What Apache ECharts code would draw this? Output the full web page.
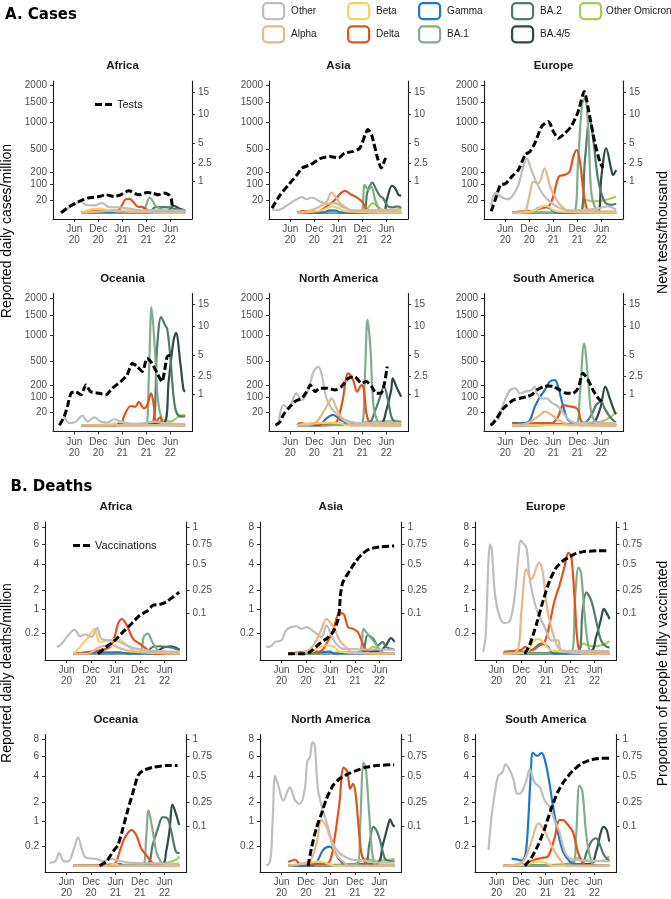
<!DOCTYPE html>
<html><head><meta charset="utf-8">
<script src="https://cdn.jsdelivr.net/npm/echarts@6/dist/echarts.min.js"></script>
<style>html,body{margin:0;padding:0;background:#fff}#c{width:671px;height:899px}</style>
</head><body><div id="c"></div><script>
// ---------- tick labels ----------
const xTickMonths = [5, 11, 17, 23, 29];
const xTickLabels = ['Jun\n20', 'Dec\n20', 'Jun\n21', 'Dec\n21', 'Jun\n22'];
const casesTicks = [20, 100, 200, 500, 1000, 1500, 2000];
const testsTicks = [1, 2.5, 5, 10, 15];
const deathsTicks = [0.2, 1, 2, 4, 6, 8];
const vaccTicks = [0.1, 0.25, 0.5, 0.75, 1];
const regions = ['Africa', 'Asia', 'Europe', 'Oceania', 'North America', 'South America'];
const variantNames = ['Other', 'Alpha', 'Beta', 'Gamma', 'Delta', 'BA.1', 'BA.2', 'BA.4/5', 'Other Omicron'];

// ---------- data: [month since Jan 2020, value] ----------
// Cases per million - Africa
const cAfOther = [[2.1,0.2],[4.6,6],[6.7,15.7],[7.9,7.8],[10,6.6],[12,11.4],[13.7,3.9],[16.2,3.5],[18.6,2],[22,0.7],[26.1,0.7],[32.7,0.5]];
const cAfAlpha = [[6.7,0],[12,0.2],[14.5,0.6],[16.5,0.5],[19,0.1],[32.7,0]];
const cAfBeta = [[6.7,0],[8,0.5],[9.5,1.6],[11.2,2],[13.7,0.7],[16,0.2],[23,0.3],[25,0],[32.7,0]];
const cAfGamma = [[6.7,0],[15,0.1],[19,0.1],[21,0],[32.7,0]];
const cAfDelta = [[6.7,0],[9,0.3],[12,0.6],[15,0.6],[16,0.8],[17,8],[17.8,22],[18.8,24],[19.8,14],[20.7,5],[22,3.9],[23.2,1.1],[25,0.1],[32.7,0]];
const cAfBA1 = [[6.7,0],[22,0],[23,8],[23.8,28.7],[24.5,18],[25.3,6],[27,1.1],[28.5,0],[32.7,0]];
const cAfBA2 = [[6.7,0],[23.5,0],[25.3,3.9],[27,3.9],[28.6,3.5],[30.2,1.6],[32.7,0.5]];
const cAfBA45 = [[6.7,0],[27.5,0],[28.6,0.7],[29.8,6],[31.5,1.6],[32.7,0.7]];
const cAfOmi = [[6.7,0],[24,0],[26,0.3],[30,0.2],[32.7,0.3]];
const cAfTests = [[1.7,0],[3.8,0.04],[6.2,0.13],[8.3,0.22],[11.2,0.27],[12.9,0.33],[14.9,0.27],[16.6,0.33],[18.6,0.5],[21.1,0.33],[23.2,0.42],[24.4,0.4],[26.1,0.33],[27.3,0.4],[28.6,0.33],[29.2,0.2],[29.5,0.04]];
// Cases - Asia
const cAsOther = [[0.45,1.1],[2,1],[4.2,6.6],[6,18],[7.9,30],[9.1,22.8],[10.4,28.7],[12.4,15.7],[14.1,9.9],[16.2,11.4],[17.8,4.9],[19.9,1.1],[22.4,0.7],[26.9,1.1],[32.7,1.1]];
const cAsAlpha = [[6.7,0],[9,0.2],[11.6,2.7],[14.1,15.7],[15.3,50.5],[16.2,35],[17.4,11.4],[19.1,2.7],[20.7,0.3],[32.7,0.2]];
const cAsBeta = [[6.7,0],[11,0.2],[13.3,1.1],[15.3,4.9],[17,2.7],[19,0.2],[32.7,0]];
const cAsGamma = [[6.7,0],[13,0],[15,0.7],[16.5,0.6],[17.5,0],[32.7,0]];
const cAsDelta = [[6.7,0],[8,0.3],[12,0.3],[14.1,4.9],[16.2,20.7],[17.5,45],[18.6,59],[20.3,39.6],[21.9,26],[23.2,11.4],[24,1.6],[25.5,0],[32.7,0]];
const cAsBA1 = [[6.7,0],[22.5,0],[23.6,96],[24.5,65],[25.2,85],[26.2,20.7],[27,2.7],[28,0],[32.7,0]];
const cAsBA2 = [[6.7,0],[23,0],[24.3,55],[25.5,112],[26.5,65],[27.4,35],[28.2,26],[29.4,4.9],[30.6,3.5],[31.8,4.9],[32.7,3]];
const cAsBA45 = [[6.7,0],[28,0],[29.1,20.7],[30.4,89],[31.2,74],[32,40],[32.7,36]];
const cAsOmi = [[6.7,0],[23.5,0],[24.4,2.7],[25.6,11.4],[26.8,4.9],[28,1.1],[30,0.5],[32.7,2.7]];
const cAsTests = [[0.45,0.022],[2.5,0.33],[4.6,0.81],[6.7,1.48],[7.9,2.05],[10,2.37],[12.4,3],[14.9,3.26],[17,3.07],[18.6,3.66],[20.7,3.86],[22.4,4.3],[24.4,7.1],[25.3,6.25],[26.9,2.9],[27.7,2.05],[28.8,3.07]];
// Cases - Europe
const cEuOther = [[1.5,5],[2.5,47],[3.8,32.6],[5.4,22.8],[6.7,32.6],[8.3,96],[9.5,262],[10.4,365],[11.5,226],[12.9,108],[14.5,39.6],[16.6,11.4],[18.6,2.7],[21.5,0.7],[24.9,1.1],[28,2],[30.6,4.9],[32.7,1.1]];
const cEuAlpha = [[6.7,0],[9.5,0],[11.2,47],[12,120],[13.3,108],[14.8,244],[16.2,85],[17.8,20.7],[19.5,2.7],[21,0.2],[32.7,0.2]];
const cEuBeta = [[6.7,0],[12,0.3],[14.1,4.9],[15.3,6],[16.6,1.6],[18,0.2],[32.7,0]];
const cEuGamma = [[6.7,0],[12,0.3],[13.3,2.7],[14.9,4.9],[16.6,1.1],[18,0],[32.7,0]];
const cEuDelta = [[6.7,0],[10,0.3],[12,0.5],[14.1,2.7],[15.8,4.9],[17,32.6],[18.4,161],[19.9,177],[21.1,209],[22,388],[22.8,485],[23.6,343],[24.7,32.6],[25.5,1.1],[26.5,0],[32.7,0]];
const cEuBA1 = [[6.7,0],[22,0],[23.2,343],[24.2,1470],[24.9,1608],[25.7,912],[26.5,47],[27.7,0.5],[28.5,0],[32.7,0]];
const cEuBA2 = [[6.7,0],[23.6,0],[24.9,343],[26.1,1095],[26.9,712],[28.2,133],[29.8,15.7],[31.5,7.8],[32.7,10]];
const cEuBA45 = [[6.7,0],[28,0],[29,161],[30.2,511],[31.5,226],[31.9,177],[32.7,226]];
const cEuOmi = [[6.7,0],[24,0],[24.9,20.7],[27.3,15.7],[29.4,18.6],[31.5,26],[32.7,32.6]];
const cEuTests = [[1.5,0.002],[2.5,0.17],[3.8,0.8],[5,0.86],[6.7,1.36],[8.3,1.9],[10,3.46],[11.2,3.86],[12.4,4.98],[14.1,7.66],[15.8,8.57],[17,6.8],[18.2,5.7],[19.9,6.5],[21.5,7.66],[23.2,10.5],[24.7,15.1],[26.1,9.5],[27.3,5.2],[28.6,2.7],[29.4,2.05]];
// Cases - Oceania
const cOcOther = [[2.5,9.2],[3.8,0.5],[5.4,1.6],[7.1,11.4],[8.3,1.6],[10,7.8],[11.6,1.6],[13.3,0.9],[14.9,4.4],[16.6,1.6],[18.6,0.5],[21,0.2],[24.9,1.6],[27.3,0.5],[32.7,0.2]];
const cOcAlpha = [[6.7,0],[32.7,0]];
const cOcBeta = [[6.7,0],[14,0],[15,0.5],[16,0],[32.7,0]];
const cOcGamma = [[6.7,0],[15,0],[16,0.3],[17,0],[32.7,0]];
const cOcDelta = [[6.7,0],[16.5,0],[17.4,9.2],[19.1,45.7],[20.3,42.6],[21.1,68],[22.4,35],[23.2,50.5],[24.2,125],[24.9,42.6],[25.4,1.6],[26.5,7.8],[27.3,0.2],[32.7,0]];
const cOcBA1 = [[6.7,0],[22.8,0],[23.6,251],[24.3,1720],[25.1,757],[25.9,78],[26.9,3.5],[28,0],[32.7,0]];
const cOcBA2 = [[6.7,0],[24.4,0.5],[25.7,757],[26.7,1443],[27.7,1231],[28.2,1150],[29,576],[29.8,100],[30.6,17.6],[31.9,9.2],[32.7,10]];
const cOcBA45 = [[6.7,0],[27.3,0.5],[28.6,251],[29.8,890],[30.4,1050],[31.5,470],[32.3,153],[32.7,140]];
const cOcOmi = [[6.7,0],[25,0.5],[27.7,3.5],[29,1.6],[31.1,9.2],[32.3,13],[32.7,11]];
const cOcTests = [[1.3,0],[2.5,0.077],[3.3,0.36],[4.2,1.05],[5.4,1.16],[6.7,0.95],[7.9,1.67],[9.1,1.16],[11.2,1.05],[12.9,0.95],[14.5,1.41],[16.6,1.96],[18.2,2.6],[19.5,3.95],[20.7,3.54],[22,2.96],[23.2,4.6],[24.4,3.95],[25.7,2.78],[26.9,1.96],[28.2,4.84],[29,5.1]];
// Cases - North America
const cNaOther = [[2.1,0.5],[3.3,50.5],[4.6,35],[6.5,125],[7.9,78],[9.5,153],[10.8,352],[12,421],[12.9,310],[13.9,100],[15.3,35],[17.4,9.2],[19.9,1.6],[23,0.5],[26.5,0.7],[32.7,0.7]];
const cNaAlpha = [[6.7,0],[9,0],[11.6,1.6],[13.3,22.8],[14.5,59],[15.3,89],[16.6,35],[17.8,6],[19.5,0.5],[21,0],[32.7,0]];
const cNaBeta = [[6.7,0],[10,0.3],[14.9,0.9],[17.4,0.5],[19,0],[32.7,0]];
const cNaGamma = [[6.7,0],[12,0],[14.1,6],[15.6,13],[17.4,4.4],[19,0.5],[20,0],[32.7,0]];
const cNaDelta = [[6.7,0],[7.5,0.5],[9,0.2],[16,0.5],[17,6],[18.1,78],[19.5,331],[20.7,251],[21.7,139],[22.8,199],[23.4,153],[24,17.6],[24.8,0.5],[25.5,0],[32.7,0]];
const cNaBA1 = [[6.7,0],[22.8,0.5],[23.6,251],[24.3,1373],[25,757],[25.8,42.6],[26.9,0.9],[28,0],[32.7,0]];
const cNaBA2 = [[6.7,0],[24.5,0.5],[26.1,22.8],[27.3,89],[28.4,183],[29.4,78],[30.6,3.5],[32.7,0.9]];
const cNaBA45 = [[6.7,0],[27.5,0.5],[29,28.7],[30.2,153],[30.6,270],[31.5,183],[32.7,100]];
const cNaOmi = [[6.7,0],[22,0],[23.2,0.9],[25,1.6],[27.5,1.6],[31.5,2.7],[32.7,1.6]];
const cNaTests = [[1.3,0],[2.4,0.01],[3.3,0.11],[4.6,0.3],[6.2,0.58],[7.9,0.75],[9.1,1.16],[10,1.67],[11.2,1.16],[12.4,1.41],[14.1,1.41],[16.2,1.28],[17.8,1.54],[19.5,2.27],[21.1,2.43],[22.8,1.81],[24,1.96],[25.3,1.54],[26.5,1.05],[27.7,1.05],[28.6,1.96],[29.2,3.54]];
// Cases - South America
const cSaOther = [[3.3,3.5],[4.6,59],[6.2,153],[7.5,167],[8.7,125],[10,139],[11.5,153],[12.3,183],[12.9,125],[14.1,89],[15.3,89],[16.6,63],[18.2,42.6],[19.9,13],[21.5,1.6],[23,0.5],[26.9,0.9],[32.7,0.5]];
const cSaAlpha = [[6.7,0],[10,0.2],[12,3.5],[13.7,13],[14.9,22.8],[16.6,13],[18.2,3.5],[19.9,0.5],[21,0],[32.7,0]];
const cSaBeta = [[6.7,0],[32.7,0]];
const cSaGamma = [[6.7,0.5],[10,0.5],[11.2,3.5],[12.4,42.6],[13.7,100],[14.9,153],[16.1,233],[17.4,251],[18.2,183],[19.5,42.6],[20.7,3.5],[22.3,0.5],[23.5,0],[32.7,0]];
const cSaDelta = [[6.7,0.5],[9,0.2],[13,0.5],[16.6,0.5],[18.2,9.2],[19.5,50.5],[20.7,45.7],[22.3,39.6],[23.2,28.7],[24,1.6],[25,0.5],[26,0],[32.7,0]];
const cSaBA1 = [[6.7,0],[22.8,0.5],[23.6,100],[24.7,822],[25.7,251],[26.5,17.6],[27.7,0.5],[28.5,0],[32.7,0]];
const cSaBA2 = [[6.7,0],[24.5,0.5],[26.5,13],[27.7,50.5],[29,68],[29.8,35],[31.1,9.2],[32.3,1.6],[32.7,1.2]];
const cSaBA45 = [[6.7,0],[26.5,0.5],[28.6,28.7],[30,183],[31.1,89],[32.3,22.8],[32.7,15]];
const cSaOmi = [[6.7,0],[25,0.5],[27,0.9],[29,1.6],[31.5,9.2],[32.3,17.6],[32.7,18]];
const cSaTests = [[1.3,0],[2,0.005],[2.9,0.05],[4.2,0.24],[5.4,0.42],[7.1,0.66],[8.7,0.75],[10.4,0.84],[11.6,0.95],[12.9,1.28],[14.5,1.54],[15.8,1.59],[17,1.54],[18.6,1.28],[20.3,1.05],[21.9,1.05],[23.2,1.41],[24.4,2.78],[25.7,2.11],[26.9,1.28],[28.2,0.75],[29,0.58]];

// Deaths per million - Africa
const dAfOther = [[2.6,0.023],[3.8,0.05],[5.4,0.17],[7,0.286],[8.3,0.15],[9.5,0.186],[11.1,0.14],[12.5,0.335],[13.5,0.113],[15.6,0.09],[17.6,0.077],[19.6,0.035],[21.3,0.017],[24.5,0.006],[32.7,0.002]];
const dAfAlpha = [[6.7,0],[10,0],[13.1,0.023],[16.4,0.035],[18,0.015],[21.3,0.002],[32.7,0]];
const dAfBeta = [[6.7,0],[8.3,0.023],[10.3,0.14],[11.9,0.31],[13.1,0.07],[15.6,0.09],[17.2,0.11],[18.8,0.07],[21.3,0.006],[23,0.002],[32.7,0]];
const dAfGamma = [[6.7,0],[12,0.001],[18,0.001],[20,0],[32.7,0]];
const dAfDelta = [[6.7,0],[13.1,0.006],[15.6,0.023],[16.8,0.15],[17.6,0.445],[18.6,0.6],[19.3,0.5],[20,0.35],[21.3,0.11],[22.9,0.05],[24.5,0.013],[26,0],[32.7,0]];
const dAfBA1 = [[6.7,0],[23,0.002],[23.9,0.14],[24.9,0.2],[26,0.07],[27,0.013],[28.5,0],[32.7,0]];
const dAfBA2 = [[6.7,0],[24.5,0.002],[26.1,0.023],[27.8,0.028],[29.4,0.023],[31,0.018],[32.7,0.006]];
const dAfBA45 = [[6.7,0],[27,0.002],[28.6,0.018],[30.6,0.028],[32.7,0.008]];
const dAfOmi = [[6.7,0],[32.7,0]];
const dAfVacc = [[12.7,0],[14.8,0.003],[16.8,0.011],[18.8,0.029],[20.9,0.056],[22.9,0.091],[24.9,0.116],[26.1,0.145],[27.8,0.151],[29.4,0.166],[31,0.199],[32.6,0.235]];
// Deaths - Asia
const dAsOther = [[1.2,0.023],[2.2,0.025],[3.4,0.07],[5,0.09],[6.2,0.286],[8.7,0.37],[9.9,0.31],[11.1,0.35],[13.1,0.23],[14.8,0.14],[16,0.4],[17.2,0.17],[18,0.07],[20,0.013],[24,0.01],[32.7,0.008]];
const dAsAlpha = [[6.7,0],[11,0.002],[13.1,0.05],[14.8,0.31],[16,0.61],[16.8,0.5],[18,0.31],[19.2,0.09],[20.9,0.018],[22,0.002],[32.7,0]];
const dAsBeta = [[6.7,0],[12.5,0.002],[14.3,0.023],[16,0.035],[18,0.023],[19.2,0.002],[32.7,0]];
const dAsGamma = [[6.7,0],[14,0.001],[16.8,0.002],[18,0],[32.7,0]];
const dAsDelta = [[6.7,0],[12,0.002],[14.3,0.002],[16,0.05],[17.6,0.27],[19.2,0.82],[20.2,0.79],[21.3,0.35],[22.5,0.31],[23.7,0.23],[24.9,0.05],[25.7,0.008],[27,0],[32.7,0]];
const dAsBA1 = [[6.7,0],[24,0.002],[25.1,0.31],[26.1,0.19],[27.4,0.09],[28.6,0.023],[30,0],[32.7,0]];
const dAsBA2 = [[6.7,0],[24.5,0.002],[26.1,0.17],[27.5,0.11],[28.6,0.035],[29.8,0.07],[30.6,0.023],[32.7,0.008]];
const dAsBA45 = [[6.7,0],[29,0.004],[30.6,0.035],[31.8,0.12],[32.7,0.07]];
const dAsOmi = [[6.7,0],[25.5,0.002],[27.4,0.023],[29,0.008],[30.5,0],[32.7,0]];
const dAsVacc = [[6.6,0],[11.1,0],[12.7,0.001],[14.3,0.0064],[16,0.014],[17.6,0.029],[18.8,0.069],[19.2,0.125],[19.4,0.21],[20,0.317],[21.7,0.429],[23.3,0.538],[24.9,0.626],[26.5,0.68],[29,0.711],[32.6,0.724]];
// Deaths - Europe
const dEuOther = [[1.7,0.002],[2.3,0.14],[3,4.28],[3.4,5.95],[3.8,5.4],[4.6,1.77],[5.8,0.66],[7,0.47],[8.3,0.55],[9.5,1.77],[10.3,4.59],[10.9,6.38],[11.5,6.1],[12.3,5.58],[13.1,2.89],[13.9,1.68],[15.2,0.79],[16.8,0.35],[18.4,0.09],[20,0.09],[20.9,0.006],[24,0.004],[32.7,0.004]];
const dEuAlpha = [[6.7,0],[9.9,0.002],[11.1,0.93],[12.3,3.55],[13.5,2.77],[15.4,4.13],[16.4,3.14],[17.2,1.23],[18.4,0.35],[20,0.023],[21.5,0.002],[32.7,0]];
const dEuBeta = [[6.7,0],[12.5,0.002],[13.9,0.07],[15.2,0.11],[16.4,0.07],[18.4,0.006],[32.7,0]];
const dEuGamma = [[6.7,0],[13.5,0.006],[16,0.05],[17.6,0.023],[19,0],[32.7,0]];
const dEuDelta = [[6.7,0.002],[11.1,0.008],[12,0.023],[13.5,0.006],[15.6,0.035],[16.8,0.07],[18,0.445],[19.2,1.4],[20.4,2.3],[21.7,3.84],[22.6,5.07],[23.3,4.75],[24.1,1.58],[24.9,0.05],[25.7,0.002],[32.7,0]];
const dEuBA1 = [[6.7,0],[23.3,0.001],[24.3,1.77],[25.1,3.69],[25.7,3.28],[26.5,0.93],[27.4,0.05],[28.5,0],[32.7,0]];
const dEuBA2 = [[6.7,0],[24.9,0.001],[26.1,0.93],[27,1.87],[28.2,1.4],[29.4,0.55],[30.6,0.09],[32,0.023],[32.7,0.02]];
const dEuBA45 = [[6.7,0],[28,0.004],[29.4,0.14],[30.6,0.6],[31.3,1],[32.1,0.79],[32.7,0.6]];
const dEuOmi = [[6.7,0],[25,0.004],[26.1,0.05],[28.2,0.028],[30.6,0.035],[32.7,0.08]];
const dEuVacc = [[11.9,0],[13.1,0.0045],[14.8,0.056],[16.4,0.176],[18,0.332],[19.6,0.46],[21.3,0.538],[22.9,0.585],[24.5,0.626],[26.5,0.651],[29.8,0.659],[32.6,0.659]];
// Deaths - Oceania
const dOcOther = [[0.9,0.004],[2.2,0.01],[3.2,0.08],[4.3,0.01],[5.4,0.01],[6.8,0.15],[7.8,0.4],[8.9,0.1],[9.9,0.03],[12.3,0.024],[13.9,0.01],[16,0.024],[18,0.012],[21,0.004],[32.7,0.002]];
const dOcAlpha = [[6.7,0],[32.7,0]];
const dOcBeta = [[6.7,0],[15.5,0],[16.8,0.002],[18,0],[32.7,0]];
const dOcGamma = [[6.7,0],[17,0],[18,0.002],[19,0],[32.7,0]];
const dOcDelta = [[6.7,0],[16.5,0.001],[18,0.1],[19.2,0.38],[20.9,0.64],[22.1,0.47],[23.3,0.15],[24.5,0.06],[25.7,0.01],[27,0],[32.7,0]];
const dOcBA1 = [[6.7,0],[23.7,0.001],[24.5,0.38],[25.1,1.54],[26,0.7],[27,0.1],[28,0.01],[29,0],[32.7,0]];
const dOcBA2 = [[6.7,0],[24.5,0.001],[26.1,0.22],[27.4,0.7],[28.6,1.19],[29.8,1.11],[30.6,0.64],[31.8,0.1],[32.7,0.08]];
const dOcBA45 = [[6.7,0],[28.5,0.002],[29.4,0.1],[30.2,0.58],[31,1.87],[31.8,1.36],[32.6,0.83]];
const dOcOmi = [[6.7,0],[27,0.002],[30,0.006],[31.8,0.018],[32.7,0.043]];
const dOcVacc = [[13.1,0],[14.8,0.0012],[16.4,0.013],[17.6,0.027],[18.8,0.088],[20.1,0.205],[21.3,0.341],[22.5,0.51],[23.7,0.568],[26.1,0.608],[29.4,0.629],[32.2,0.629]];
// Deaths - North America
const dNaOther = [[1.3,0],[2.2,0.01],[2.8,0.97],[3.4,4.06],[4.2,3.22],[5.4,2.14],[7,3.09],[8.3,2.14],[9.5,1.93],[10.7,2.96],[11.3,5.51],[11.9,5.87],[12.6,7.66],[13.1,7.37],[13.9,2.96],[14.8,1.83],[16,0.97],[17.6,0.25],[19.2,0.08],[20.9,0.035],[22.5,0.018],[25,0.015],[28,0.005],[32.7,0.005]];
const dNaAlpha = [[6.7,0],[10,0.002],[11.9,0.01],[13.5,0.22],[14.8,1.04],[16,0.76],[17.2,0.29],[18.4,0.06],[20,0.01],[21.5,0],[32.7,0]];
const dNaBeta = [[6.7,0],[11.9,0.005],[14.5,0.01],[16.5,0.002],[18,0],[32.7,0]];
const dNaGamma = [[6.7,0],[12,0],[13.5,0.004],[15.2,0.127],[16.8,0.185],[18,0.1],[19.2,0.018],[21,0],[32.7,0]];
const dNaDelta = [[6.7,0.005],[7,0.01],[8.3,0.018],[9.5,0.002],[15,0.002],[16.8,0.01],[18,0.38],[19.2,2.03],[20.2,4.84],[21.1,4.45],[21.8,2.96],[22.5,3.36],[23.1,2.7],[23.7,1.12],[24.5,0.1],[25.3,0.01],[26.5,0],[32.7,0]];
const dNaBA1 = [[6.7,0],[23.7,0.002],[24.3,0.97],[25.1,5.34],[25.7,4.52],[26.5,1.28],[27.4,0.03],[28.5,0],[32.7,0]];
const dNaBA2 = [[6.7,0],[25.3,0.002],[26.5,0.22],[27.5,0.76],[28.2,0.64],[29,0.38],[29.8,0.1],[30.6,0.018],[32.7,0.01]];
const dNaBA45 = [[6.7,0],[28.2,0.002],[29.8,0.22],[31,0.76],[31.6,1.08],[32.2,0.86],[32.7,0.76]];
const dNaOmi = [[6.7,0],[23,0.002],[24.1,0.01],[25.7,0.024],[28.2,0.012],[31.4,0.018],[32.7,0.024]];
const dNaVacc = [[11.5,0],[12.3,0.019],[13.5,0.088],[14.8,0.171],[16,0.282],[17.6,0.405],[19.2,0.474],[21.3,0.529],[23.3,0.568],[25.7,0.608],[28.2,0.629],[32.6,0.641]];
// Deaths - South America
const dSaOther = [[3,0.127],[3.8,1.28],[4.6,2.71],[5.4,4.06],[6.4,4.37],[7.2,5.16],[8.3,4.52],[9.1,3.77],[10.1,2.6],[11.1,2.71],[12.3,3.63],[13.1,4.68],[14.3,3.49],[15.6,3.09],[16.8,2.14],[18,1.73],[19.2,1.04],[20.4,0.58],[21.7,0.1],[23.3,0.024],[26,0.015],[32.7,0.01]];
const dSaAlpha = [[6.7,0],[10,0.001],[11.5,0.01],[12.7,0.1],[13.9,0.42],[15.2,0.9],[16.4,0.7],[17.6,0.38],[19.2,0.1],[20.9,0.01],[22,0],[32.7,0]];
const dSaBeta = [[6.7,0],[12,0.001],[15.2,0.01],[17.5,0.002],[19,0],[32.7,0]];
const dSaGamma = [[8.7,0.024],[10,0.02],[11.1,0.013],[12,0.05],[12.6,0.58],[13.4,4.37],[13.9,6.4],[15,6.05],[16,6.4],[16.8,5.68],[17.8,3.77],[18.8,1.83],[20,0.58],[21.3,0.1],[22.9,0.01],[24,0.002],[32.7,0]];
const dSaDelta = [[6.7,0],[12,0.002],[14.3,0.018],[16,0.03],[17.6,0.045],[19.2,0.38],[20.4,1.04],[21.3,1.04],[22.5,0.83],[23.7,0.58],[24.9,0.1],[25.9,0.01],[27,0],[32.7,0]];
const dSaBA1 = [[6.7,0],[23.7,0.002],[24.5,0.47],[25.3,3.22],[26,2.84],[27,0.47],[28,0.03],[29,0],[32.7,0]];
const dSaBA2 = [[6.7,0],[25.8,0.002],[27,0.078],[28.2,0.29],[29.4,0.38],[30.2,0.25],[31.3,0.06],[32.7,0.01]];
const dSaBA45 = [[6.7,0],[28,0.002],[29.4,0.1],[30.6,0.58],[31.2,0.76],[32,0.64],[32.6,0.29]];
const dSaOmi = [[6.7,0],[22.5,0.002],[24.9,0.03],[26.5,0.015],[29,0.01],[31.5,0.015],[32.6,0.045]];
const dSaVacc = [[11.9,0],[13.5,0.0037],[15.2,0.027],[16.8,0.088],[18.4,0.205],[20,0.341],[21.7,0.456],[23.7,0.568],[25.7,0.65],[28.2,0.706],[30.6,0.724],[32.6,0.724]];

// ---------- assembly ----------
const casesPanels = [
  [cAfOther,cAfAlpha,cAfBeta,cAfGamma,cAfDelta,cAfBA1,cAfBA2,cAfBA45,cAfOmi,cAfTests],
  [cAsOther,cAsAlpha,cAsBeta,cAsGamma,cAsDelta,cAsBA1,cAsBA2,cAsBA45,cAsOmi,cAsTests],
  [cEuOther,cEuAlpha,cEuBeta,cEuGamma,cEuDelta,cEuBA1,cEuBA2,cEuBA45,cEuOmi,cEuTests],
  [cOcOther,cOcAlpha,cOcBeta,cOcGamma,cOcDelta,cOcBA1,cOcBA2,cOcBA45,cOcOmi,cOcTests],
  [cNaOther,cNaAlpha,cNaBeta,cNaGamma,cNaDelta,cNaBA1,cNaBA2,cNaBA45,cNaOmi,cNaTests],
  [cSaOther,cSaAlpha,cSaBeta,cSaGamma,cSaDelta,cSaBA1,cSaBA2,cSaBA45,cSaOmi,cSaTests]
];
const deathsPanels = [
  [dAfOther,dAfAlpha,dAfBeta,dAfGamma,dAfDelta,dAfBA1,dAfBA2,dAfBA45,dAfOmi,dAfVacc],
  [dAsOther,dAsAlpha,dAsBeta,dAsGamma,dAsDelta,dAsBA1,dAsBA2,dAsBA45,dAsOmi,dAsVacc],
  [dEuOther,dEuAlpha,dEuBeta,dEuGamma,dEuDelta,dEuBA1,dEuBA2,dEuBA45,dEuOmi,dEuVacc],
  [dOcOther,dOcAlpha,dOcBeta,dOcGamma,dOcDelta,dOcBA1,dOcBA2,dOcBA45,dOcOmi,dOcVacc],
  [dNaOther,dNaAlpha,dNaBeta,dNaGamma,dNaDelta,dNaBA1,dNaBA2,dNaBA45,dNaOmi,dNaVacc],
  [dSaOther,dSaAlpha,dSaBeta,dSaGamma,dSaDelta,dSaBA1,dSaBA2,dSaBA45,dSaOmi,dSaVacc]
];

const COLORS = {
  'Other':'#BEBEBE','Alpha':'#E6B68C','Beta':'#FCD060','Gamma':'#1F78C8','Delta':'#E0541C',
  'BA.1':'#82AD8A','BA.2':'#4F7B6B','BA.4/5':'#2E4A4A','Other Omicron':'#A5CD58'
};
const drawOrder = [8,7,6,5,3,4,2,0,1];
const FONT = '"Liberation Sans", Arial, sans-serif';
const AXIS_COLOR = '#1a1a1a';
const LABEL_COLOR = '#4d4d4d';
const sq = v => Math.sqrt(Math.max(v, 0));
const fmtNum = v => String(Number(v.toFixed(2)));

const grids = [], xAxes = [], yAxes = [], series = [], graphics = [];
const sections = [
  {kind:'cases', panels:casesPanels, tops:[81, 293.5], lefts:[53, 269, 484], width:139,
   lTicks:casesTicks, rTicks:testsTicks, lMin:-2.2, lMax:46.26, ratio:Math.sqrt(120), aux:'Tests'},
  {kind:'deaths', panels:deathsPanels, tops:[522, 734.5], lefts:[45, 260, 475], width:141.5,
   lTicks:deathsTicks, rTicks:vaccTicks, lMin:-0.14, lMax:2.94, ratio:Math.sqrt(8), aux:'Vaccinations'}
];
const H = 138;

function axisCommon() {
  return {
    axisLine:{show:true, onZero:false, lineStyle:{color:AXIS_COLOR, width:1.1}},
    axisTick:{show:true, length:3, lineStyle:{color:'#333', width:1}},
    splitLine:{show:false},
    axisLabel:{fontSize:10, color:LABEL_COLOR, fontFamily:FONT}
  };
}

sections.forEach(sec => {
  sec.panels.forEach((arrs, p) => {
    const row = Math.floor(p / 3), col = p % 3;
    const gi = grids.length;
    const left = sec.lefts[col], top = sec.tops[row];
    grids.push({left:left, top:top, width:sec.width, height:H, containLabel:false});
    const xa = axisCommon();
    xAxes.push(Object.assign(xa, {
      gridIndex:gi, type:'value', min:-0.3, max:34.4,
      axisTick:Object.assign(xa.axisTick, {customValues:xTickMonths}),
      axisLabel:Object.assign(xa.axisLabel, {customValues:xTickMonths, lineHeight:11, margin:5,
        formatter:v => xTickLabels[xTickMonths.indexOf(Math.round(v))] || ''})
    }));
    const ya = axisCommon();
    const lVals = sec.lTicks.map(sq);
    yAxes.push(Object.assign(ya, {
      gridIndex:gi, type:'value', position:'left', min:sec.lMin, max:sec.lMax,
      axisTick:Object.assign(ya.axisTick, {customValues:lVals}),
      axisLabel:Object.assign(ya.axisLabel, {customValues:lVals, margin:6, formatter:v => fmtNum(v*v)})
    }));
    const yb = axisCommon();
    const rVals = sec.rTicks.map(sq);
    yAxes.push(Object.assign(yb, {
      gridIndex:gi, type:'value', position:'right', min:sec.lMin/sec.ratio, max:sec.lMax/sec.ratio,
      axisTick:Object.assign(yb.axisTick, {customValues:rVals}),
      axisLabel:Object.assign(yb.axisLabel, {customValues:rVals, margin:6, formatter:v => fmtNum(v*v)})
    }));
    drawOrder.forEach(k => {
      const name = variantNames[k];
      series.push({
        type:'line', name:name, xAxisIndex:gi, yAxisIndex:2*gi,
        data:arrs[k].map(d => [d[0], sq(d[1])]),
        smooth:0.35, symbol:'none', silent:true, animation:false,
        lineStyle:{color:COLORS[name], width:2.2},
        itemStyle:{color:COLORS[name]}
      });
    });
    series.push({
      type:'line', name:sec.aux, xAxisIndex:gi, yAxisIndex:2*gi+1,
      data:arrs[9].map(d => [d[0], sq(d[1])]),
      smooth:0.2, symbol:'none', silent:true, animation:false, z:5,
      lineStyle:{color:'#000', width:3, type:[7,3]},
      itemStyle:{color:'#000'}
    });
    graphics.push({type:'text', x:left + sec.width/2, y:top - 15, silent:true,
      style:{text:regions[p], font:'bold 11.5px ' + FONT, fill:'#1a1a1a', textAlign:'center', textVerticalAlign:'middle'}});
  });
});

// section & axis titles
graphics.push({type:'text', x:5, y:15, style:{text:'A. Cases', font:'bold 15px "DejaVu Sans", sans-serif', fill:'#000', textAlign:'left', textVerticalAlign:'middle'}});
graphics.push({type:'text', x:10.5, y:487, style:{text:'B. Deaths', font:'bold 15px "DejaVu Sans", sans-serif', fill:'#000', textAlign:'left', textVerticalAlign:'middle'}});
const axisTitles = [
  {t:'Reported daily cases/million', x:7.5, y:231},
  {t:'New tests/thousand', x:663.5, y:232.5},
  {t:'Reported daily deaths/million', x:7.5, y:673},
  {t:'Proportion of people fully vaccinated', x:663.5, y:673.5}
];
axisTitles.forEach(a => graphics.push({type:'text', x:a.x, y:a.y, rotation:Math.PI/2,
  style:{text:a.t, font:'14px ' + FONT, fill:'#000', textAlign:'center', textVerticalAlign:'middle'}}));

// legends
const legendCols = [[0,1],[2,4],[3,5],[6,7],[8]];
const legendLefts = [262, 347, 418, 511, 579];
const legends = legendCols.map((idxs, c) => ({
  orient:'vertical', left:legendLefts[c], top:2, padding:0, itemWidth:21, itemHeight:16, itemGap:5,
  selectedMode:false, icon:'roundRect',
  textStyle:{fontSize:10, color:'#1a1a1a', fontFamily:FONT, padding:[0,0,0, c === 4 ? 0 : 2]},
  data:idxs.map(i => ({name:variantNames[i], icon:'roundRect',
    itemStyle:{color:'#ffffff', borderColor:COLORS[variantNames[i]], borderWidth:2.2}}))
}));
const dashIcon = 'path://M0,0H7V3H0Z M10,0H17V3H10Z';
legends.push({left:95, top:99, padding:0, itemWidth:17, itemHeight:3, selectedMode:false,
  textStyle:{fontSize:11, color:'#1a1a1a', fontFamily:FONT},
  data:[{name:'Tests', icon:dashIcon, itemStyle:{color:'#000', borderWidth:0}}]});
legends.push({left:73, top:540, padding:0, itemWidth:17, itemHeight:3, selectedMode:false,
  textStyle:{fontSize:11, color:'#1a1a1a', fontFamily:FONT},
  data:[{name:'Vaccinations', icon:dashIcon, itemStyle:{color:'#000', borderWidth:0}}]});

const chart = echarts.init(document.getElementById('c'), null, {renderer:'canvas'});
chart.setOption({
  animation:false,
  backgroundColor:'#ffffff',
  grid:grids, xAxis:xAxes, yAxis:yAxes, series:series, legend:legends, graphic:graphics
});
</script></body></html>
